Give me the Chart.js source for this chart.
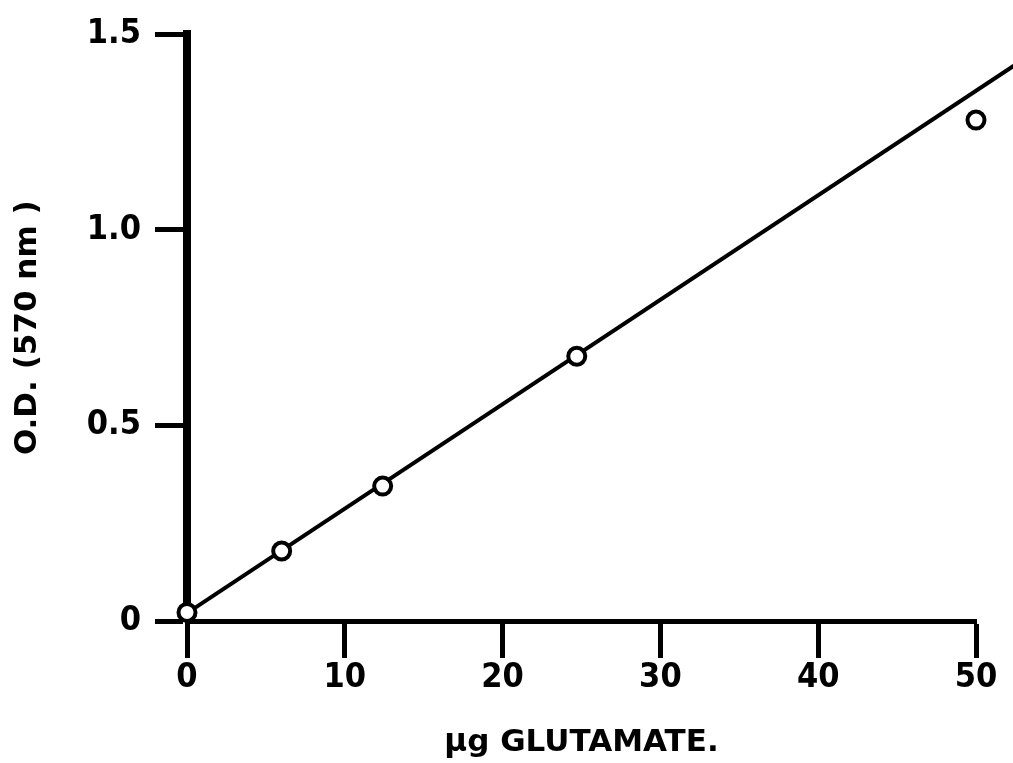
<!DOCTYPE html>
<html>
<head>
<meta charset="utf-8">
<script src="https://cdn.jsdelivr.net/npm/chart.js@4.4.1/dist/chart.umd.min.js"></script>
<style>
  html, body { margin: 0; padding: 0; background: #fff; }
  #chart { display: block; }
</style>
</head>
<body>
<canvas id="chart" width="1013" height="763"></canvas>
<script>
// measured points
const glutamate = [0, 6.0, 12.4, 24.7, 50];
const od = [0.022, 0.179, 0.345, 0.677, 1.281];

// drawn standard line (runs past the last tick to the edge)
const fitX = [0, 52.4];
const fitY = [0.02, 1.42];

const xTicks = [0, 10, 20, 30, 40, 50];
const yTicks = [0, 0.5, 1.0, 1.5];

const tickFont = {
  family: "'Liberation Sans Narrow', 'DejaVu Sans Condensed', 'Liberation Sans', sans-serif",
  size: 34,
  weight: "bold",
};
const titleFont = {
  family: "'DejaVu Sans', 'Liberation Sans', sans-serif",
  size: 31,
  weight: "bold",
};

let chart = new Chart(document.querySelector("#chart"), {
  type: "scatter",
  data: {
    datasets: [
      {
        data: glutamate.map((x, i) => ({ x: x, y: od[i] })),
        showLine: false,
        pointRadius: 8.5,
        pointBorderWidth: 4,
        pointBorderColor: "#000",
        pointBackgroundColor: "#fff",
        clip: false,
        order: 1,
      },
      {
        data: fitX.map((x, i) => ({ x: x, y: fitY[i] })),
        showLine: true,
        borderColor: "#000",
        borderWidth: 4,
        pointRadius: 0,
        clip: false,
        order: 2,
      },
    ],
  },
  options: {
    responsive: false,
    animation: false,
    layout: {
      padding: { top: 30, right: 37, left: 0, bottom: 0 },
    },
    plugins: {
      legend: { display: false },
      tooltip: { enabled: false },
    },
    scales: {
      x: {
        type: "linear",
        min: 0,
        max: 50,
        afterBuildTicks: (scale) => {
          scale.ticks = xTicks.map((v) => ({ value: v }));
        },
        afterFit: (scale) => {
          scale.height = 142;
        },
        border: { display: true, color: "#000", width: 5 },
        grid: {
          drawOnChartArea: false,
          drawTicks: true,
          tickLength: 37,
          tickWidth: 5,
          tickColor: "#000",
        },
        ticks: {
          color: "#000",
          font: tickFont,
          padding: 0,
          maxRotation: 0,
          callback: (v) => String(v),
        },
        title: {
          display: true,
          text: "μg GLUTAMATE.",
          color: "#000",
          font: titleFont,
          padding: { top: 0, bottom: 1 },
        },
      },
      y: {
        type: "linear",
        min: 0,
        max: 1.5,
        afterBuildTicks: (scale) => {
          scale.ticks = yTicks.map((v) => ({ value: v }));
        },
        afterFit: (scale) => {
          scale.width = 187;
        },
        border: { display: true, color: "#000", width: 8 },
        grid: {
          drawOnChartArea: false,
          drawTicks: true,
          tickLength: 32,
          tickWidth: 5,
          tickColor: "#000",
        },
        ticks: {
          color: "#000",
          font: tickFont,
          padding: 14,
          callback: (v) => (v === 0 ? "0" : v.toFixed(1)),
        },
        title: {
          display: true,
          text: "O.D. (570 nm )",
          color: "#000",
          font: titleFont,
          padding: { top: 9, bottom: 0 },
        },
      },
    },
  },
});
</script>
</body>
</html>
